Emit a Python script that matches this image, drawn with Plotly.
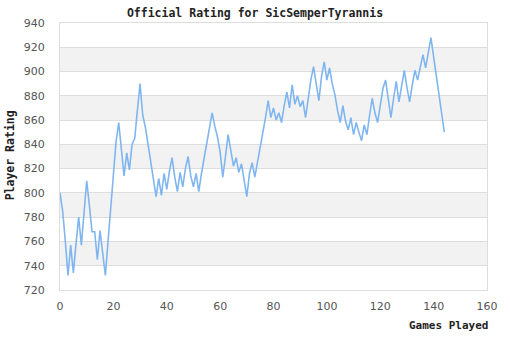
import plotly.graph_objects as go

games = list(range(145))
ratings = [
    800, 785, 760, 732, 757, 734, 758, 780, 757, 785,
    810, 790, 768, 768, 745, 769, 750, 732, 760, 790,
    815, 842, 858, 836, 814, 833, 819, 840, 845, 868,
    890, 864, 854, 840, 826, 812, 797, 812, 798, 816,
    803, 818, 829, 813, 801, 817, 805, 820, 830, 814,
    805, 816, 801, 816, 829, 840, 852, 866, 855, 846,
    834, 813, 830, 848, 835, 822, 829, 817, 824, 810,
    797, 816, 825, 813, 825, 837, 848, 862, 876, 862,
    870, 860, 866, 858, 872, 883, 870, 889, 873, 880,
    871, 876, 862, 880, 893, 904, 889, 876, 896, 908,
    893, 903, 890, 881, 868, 858, 872, 859, 852, 862,
    848, 858, 850, 843, 856, 848, 864, 878, 866, 858,
    872, 886, 893, 878, 862, 878, 892, 875, 889, 901,
    887, 875, 889, 901, 893, 905, 914, 903, 916, 928,
    912, 897, 883, 866, 850,
]
y_ticks = list(range(720, 941, 20))
x_ticks = list(range(0, 161, 20))
title = "Official Rating for SicSemperTyrannis"
x_title = "Games Played"
y_title = "Player Rating"

fig = go.Figure()
fig.add_trace(go.Scatter(x=games, y=ratings, mode="lines",
                         line=dict(color="#80b6f0", width=1.6),
                         hoverinfo="x+y"))

shapes = []
for lo in y_ticks[:-1]:
    if ((lo - 720) // 20) % 2 == 1:
        shapes.append(dict(type="rect", xref="paper", yref="y", x0=0, x1=1,
                           y0=lo, y1=lo + 20, fillcolor="#f2f2f2",
                           line=dict(width=0), layer="below"))

fig.update_layout(
    width=510, height=340,
    margin=dict(l=60, r=20, t=23, b=50),
    paper_bgcolor="white", plot_bgcolor="white",
    showlegend=False,
    shapes=shapes,
    title=dict(text="<b>" + title + "</b>", x=0.5, xanchor="center",
               y=1 - 13 / 340, yanchor="middle",
               font=dict(family="DejaVu Sans Mono", size=11.5, color="#222")),
    xaxis=dict(range=[0, 160], tickvals=x_ticks, showgrid=False,
               zeroline=False, showline=True, linecolor="#dddddd", linewidth=1,
               mirror=True, ticks="", ticklabelstandoff=6,
               tickfont=dict(family="DejaVu Sans", size=11, color="#555")),
    yaxis=dict(range=[720, 940], tickvals=y_ticks, showgrid=True,
               gridcolor="#dddddd", gridwidth=1,
               zeroline=False, showline=True, linecolor="#dddddd", linewidth=1,
               mirror=True, ticks="", ticklabelstandoff=12,
               tickfont=dict(family="DejaVu Sans", size=11, color="#555")),
    annotations=[
        dict(text="<b>" + x_title + "</b>", xref="paper", yref="paper",
             x=1, y=-36 / 267, xanchor="right", yanchor="middle",
             xshift=3, showarrow=False,
             font=dict(family="DejaVu Sans Mono", size=11, color="#222")),
        dict(text="<b>" + y_title + "</b>", xref="paper", yref="paper",
             x=-50 / 430, y=(290 - 155) / 267, xanchor="center", yanchor="middle",
             textangle=-90, showarrow=False,
             font=dict(family="DejaVu Sans Mono", size=11.5, color="#222")),
    ],
)

fig.write_html("out.html")
